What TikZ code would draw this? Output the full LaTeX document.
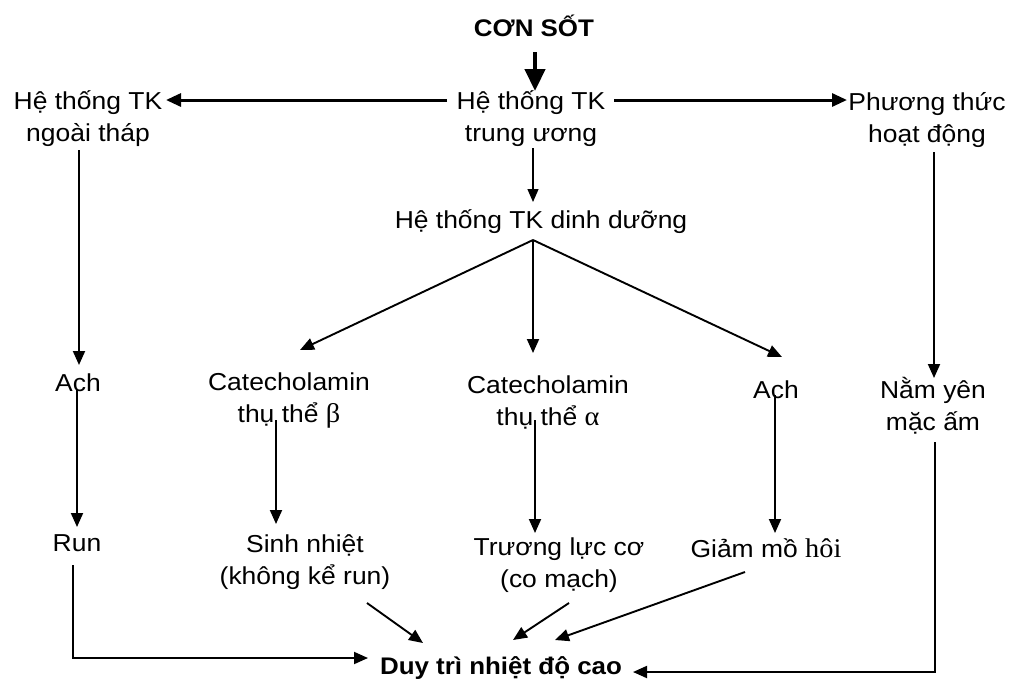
\documentclass[tikz,border=0pt]{standalone}
\usepackage{fontspec}
\setmainfont{Liberation Sans}[FakeStretch=1.08]
\newfontfamily\serifface{Liberation Serif}[FakeStretch=1.05]
\usetikzlibrary{arrows.meta,calc}
\begin{document}
\begin{tikzpicture}[x=1pt,y=-1pt,
  every node/.style={inner sep=0pt, align=center, font=\fontsize{24.5}{32}\selectfont},
  ttl/.style={font=\fontsize{24}{32}\selectfont\bfseries},
  ar/.style={-{Triangle[length=14pt,width=12pt]}, line width=1.9pt},
  arthick/.style={-{Triangle[length=15pt,width=13pt]}, line width=3pt},
  arthin/.style={-{Triangle[length=13pt,width=11pt]}, line width=1.2pt},
  arbig/.style={-{Triangle[length=22pt,width=20pt]}, line width=4.5pt}]
\useasboundingbox (0,0) rectangle (1027,686);
\fill[white] (0,0) rectangle (1027,686);
% nodes
\node[ttl] (con) at (534,26) {CƠN SỐT};
\node (tw) at (531,119) {Hệ thống TK\\trung ương};
\node (ng) at (88,119) {Hệ thống TK\\ngoài tháp};
\node (pt) at (927,120) {Phương thức\\hoạt động};
\node (dd) at (541,222) {Hệ thống TK dinh dưỡng};
\node (cb) at (289,400) {Catecholamin\\thụ thể {\serifface\fontsize{27}{32}\selectfont β}};
\node (ca) at (548,402) {Catecholamin\\thụ thể {\serifface\fontsize{27}{32}\selectfont α}};
\node (ach2) at (776,390) {Ach};
\node (nam) at (933,406) {Nằm yên\\mặc ấm};
\node (ach1) at (78,383) {Ach};
\node (run) at (77,543) {Run};
\node (sn) at (305,562) {Sinh nhiệt\\(không kể run)};
\node (tl) at (559,565) {Trương lực cơ\\(co mạch)};
\node (gm) at (766,548) {Giảm mồ {\serifface\fontsize{27}{32}\selectfont hôi}};
\node[ttl] (duy) at (501,668) {Duy trì nhiệt độ cao};
% connectors
\draw[arbig] ($(con)+(1,26)$) -- ($(con)+(1,65)$);
\draw[arthick] ($(tw)+(-84,-19)$) -- ($(ng)+(78,-19)$);
\draw[arthick] ($(tw)+(83,-19)$) -- ($(pt)+(-80,-20)$);
\draw[arthin] ($(tw)+(2,29)$) -- ($(dd)+(-8,-20)$);
\draw[ar] ($(dd)+(-8,18)$) -- ($(cb)+(11,-50)$);
\draw[ar] ($(dd)+(-8,18)$) -- ($(ca)+(-15,-49)$);
\draw[ar] ($(dd)+(-8,18)$) -- ($(ach2)+(6,-33)$);
\draw[ar] ($(ng)+(-9,31)$) -- ($(ach1)+(1,-18)$);
\draw[ar] ($(ach1)+(-1,7)$) -- ($(run)+(0,-16)$);
\draw[ar] ($(cb)+(-13,20)$) -- ($(sn)+(-29,-38)$);
\draw[ar] ($(ca)+(-13,18)$) -- ($(tl)+(-24,-32)$);
\draw[ar] ($(ach2)+(-1,5)$) -- ($(gm)+(9,-15)$);
\draw[ar] ($(pt)+(7,32)$) -- ($(nam)+(1,-28)$);
\draw[ar] ($(run)+(-4,22)$) |- ($(duy)+(-133,-10)$);
\draw[ar] ($(sn)+(62,41)$) -- ($(duy)+(-78,-25)$);
\draw[ar] ($(tl)+(10,38)$) -- ($(duy)+(12,-28)$);
\draw[ar] ($(gm)+(-21,24)$) -- ($(duy)+(54,-28)$);
\draw[ar] ($(nam)+(2,36)$) |- ($(duy)+(132,4)$);
\end{tikzpicture}
\end{document}
